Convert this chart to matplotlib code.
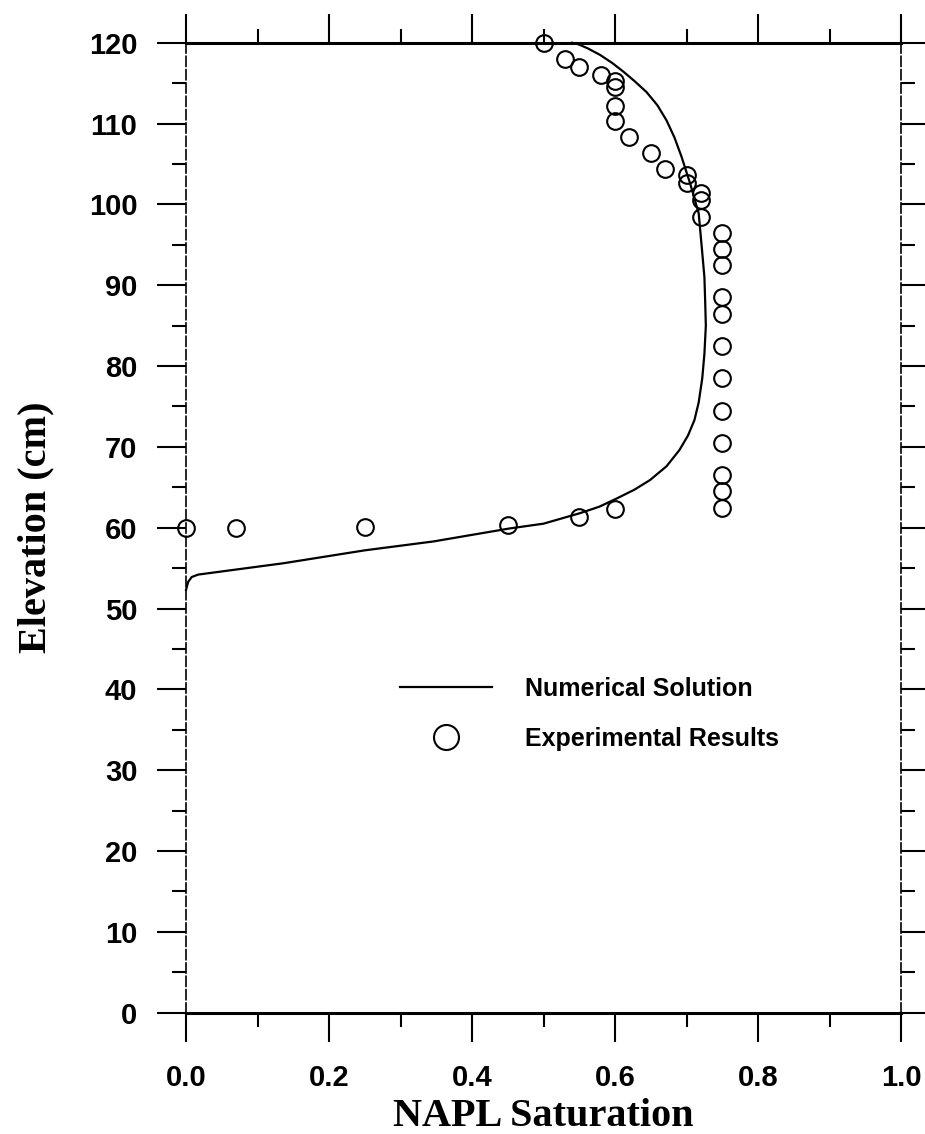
import matplotlib
matplotlib.use('Agg')
import matplotlib.pyplot as plt
from matplotlib.font_manager import FontProperties
from matplotlib.ticker import MultipleLocator, FormatStrFormatter

# numerical solution (saturation, elevation)
num_sat = [0.0, 0.003, 0.008, 0.017, 0.136, 0.250, 0.346, 0.452, 0.500, 0.551, 0.578,
           0.602, 0.627, 0.649, 0.672, 0.690, 0.702, 0.711, 0.717, 0.722, 0.725, 0.727,
           0.726, 0.725, 0.722, 0.717, 0.705, 0.693, 0.683, 0.672, 0.659, 0.644, 0.628,
           0.612, 0.596, 0.579, 0.562, 0.549, 0.540]
num_elev = [52.3, 53.3, 53.9, 54.2, 55.6, 57.2, 58.3, 59.9, 60.5, 61.8, 62.6,
            63.6, 64.7, 65.9, 67.6, 69.6, 71.4, 73.3, 75.5, 78.5, 81.5, 85.0,
            88.2, 91.0, 94.0, 98.9, 102.6, 105.9, 108.3, 110.4, 112.3, 113.9, 115.2,
            116.4, 117.5, 118.5, 119.3, 119.8, 120.0]

# experimental results
exp_sat = [0.50, 0.53, 0.55, 0.58, 0.60, 0.60, 0.60, 0.60, 0.62, 0.65, 0.67, 0.70, 0.70,
           0.72, 0.72, 0.72, 0.75, 0.75, 0.75, 0.75, 0.75, 0.75, 0.75, 0.75, 0.75, 0.75,
           0.75, 0.75, 0.0, 0.07, 0.25, 0.45, 0.55, 0.60]
exp_elev = [120.0, 118.0, 117.0, 116.0, 115.3, 114.5, 112.2, 110.3, 108.4, 106.4, 104.4,
            103.6, 102.6, 101.4, 100.5, 98.4, 96.5, 94.5, 92.5, 88.5, 86.5, 82.5, 78.5,
            74.5, 70.5, 66.5, 64.5, 62.5, 60.0, 60.0, 60.1, 60.3, 61.3, 62.3]

fig = plt.figure(figsize=(9.25, 11.34), dpi=100)
ax = fig.add_axes([0.2011, 0.1070, 0.7730, 0.8553])

ax.plot(num_sat, num_elev, color='black', lw=1.6, label='Numerical Solution', clip_on=False)
ax.plot(exp_sat, exp_elev, 'o', mfc='none', mec='black', mew=1.5, ms=12,
        label='Experimental Results', clip_on=False)

ax.set_xlim(0, 1.0)
ax.set_ylim(0, 120)
ax.xaxis.set_major_locator(MultipleLocator(0.2))
ax.xaxis.set_minor_locator(MultipleLocator(0.1))
ax.yaxis.set_major_locator(MultipleLocator(10))
ax.yaxis.set_minor_locator(MultipleLocator(5))
ax.xaxis.set_major_formatter(FormatStrFormatter('%.1f'))

ax.tick_params(which='both', direction='out', top=True, right=True, width=1.5, color='black')
ax.tick_params(which='major', length=21)
ax.tick_params(which='minor', length=10)
ax.tick_params(axis='x', pad=16)
ax.tick_params(axis='y', pad=14)

for s in ['top', 'bottom']:
    ax.spines[s].set_linewidth(2.2)
for s in ['left', 'right']:
    ax.spines[s].set_linewidth(1.2)
    ax.spines[s].set_linestyle((0, (6, 2)))

tick_font = FontProperties(family='Liberation Sans', weight='bold', size=21)
for lab in ax.get_xticklabels() + ax.get_yticklabels():
    lab.set_fontproperties(tick_font)

ax.set_xlabel('NAPL Saturation', family='Liberation Serif', weight='bold', size=29, labelpad=4)
ax.set_ylabel('Elevation (cm)', family='Liberation Serif', weight='bold', size=29, labelpad=25)

leg = ax.legend(loc='center left', bbox_to_anchor=(0.299, 0.308), frameon=False,
                prop=dict(family='Liberation Sans', weight='bold', size=18),
                handlelength=3.7, handletextpad=1.3, labelspacing=1.05,
                markerscale=1.5, borderpad=0, borderaxespad=0)

fig.savefig('out.png', dpi=100)
